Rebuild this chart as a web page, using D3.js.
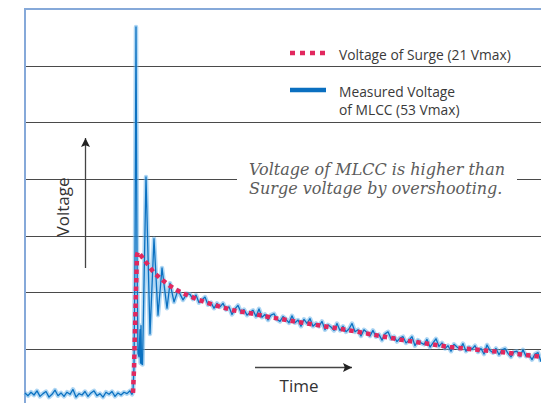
<!DOCTYPE html>
<html>
<head>
<meta charset="utf-8">
<script src="https://cdn.jsdelivr.net/npm/d3@7"></script>
<style>
  body { margin: 0; background: #fff; }
  svg { display: block; }
</style>
</head>
<body>
<div id="chart"></div>
<script>
const WIDTH = 541
const HEIGHT = 403

// time in arbitrary units, voltage in V
const baselineStart = 0
const baselineStep = 3
const baselineVolts = [0.3, -0.1, 0.4, 0.0, 0.6, -0.2, 0.2, 0.5, -0.3, 0.1, 0.7, -0.1,
    0.3, -0.2, 0.4, 0.1, 0.8, -0.3, 0.2, 0.0, 0.5, -0.2, 0.3, 0.6,
    -0.1, 0.2, -0.3, 0.4, 0.1, 0.5, -0.2, 0.3, 0.0, 0.4, 0.2, 0.6]

// ringing right after the surge edge [time, volts]
const ringing = [[106, 0.3], [107, 0.1], [108, 0.6], [109, 4.0], [110, 20], [111, 53],
    [112, 20], [113, 6.0], [114, 5.5], [115, 9.4], [115.5, 4.6], [116, 10], [116.5, 4.5],
    [117.5, 4.4], [121, 31.4], [125, 8.8], [129, 22.5], [133, 11.5], [137, 18.3],
    [142, 12.5], [145, 16.1], [149, 13.4], [153, 15.1], [158, 13.7], [162, 14.6]]

const decayStart = 165
const decayStep = 3
const decayVolts = [14.5, 13.8, 14.4, 13.3, 13.7, 14.1, 13.0, 13.3, 12.5, 13.2,
    12.7, 13.2, 12.3, 12.7, 11.6, 12.4, 12.9, 11.9, 12.3, 11.5,
    11.9, 12.2, 11.3, 12.4, 11.2, 11.6, 10.8, 11.5, 11.7, 10.9,
    10.6, 11.3, 10.9, 10.4, 11.4, 10.4, 10.8, 9.9, 10.9, 10.3,
    11.0, 9.9, 10.3, 9.9, 10.6, 9.4, 10.1, 9.8, 9.3, 10.3,
    9.3, 9.9, 9.1, 9.5, 10.3, 9.1, 9.4, 8.5, 9.4, 9.0,
    8.5, 9.3, 8.4, 8.7, 7.9, 8.8, 9.1, 8.1, 8.4, 7.7,
    8.2, 8.4, 7.5, 7.9, 8.4, 7.1, 7.9, 7.5, 7.3, 8.0,
    6.9, 7.5, 8.1, 7.0, 7.5, 6.7, 7.1, 6.3, 7.3, 6.9,
    6.6, 7.4, 6.3, 6.9, 6.6, 7.1, 6.2, 6.7, 5.9, 7.2,
    6.4, 6.1, 6.7, 5.8, 6.5, 6.7, 6.0, 5.5, 6.2, 6.3,
    5.6, 6.5, 5.6, 5.8, 5.1, 5.9, 6.1, 4.8]

// surge voltage (21 Vmax) [time, volts]
const surge = [[108, 0.3], [109, 3.6], [110, 9.4], [111, 15.1], [112, 20.2], [113, 20.6],
    [117, 19.9], [129, 17.6], [137, 16.6], [145, 15.7], [153, 15.0], [162, 14.4],
    [172, 13.8], [188, 13.0], [208, 12.2], [228, 11.7], [245, 11.2], [278, 10.4],
    [325, 9.3], [378, 7.9], [425, 6.9], [475, 6.2], [516, 5.5]]

const gridVolts = [6.6, 14.8, 22.95, 31.1, 39.25, 47.4]

const legendLabels = ['Voltage of Surge (21 Vmax)', 'Measured Voltage', 'of MLCC (53 Vmax)']
const noteLines = ['Voltage of MLCC is higher than', 'Surge voltage by overshooting.']

const measured = baselineVolts.map((v, i) => [baselineStart + i * baselineStep, v])
    .concat(ringing)
    .concat(decayVolts.map((v, i) => [decayStart + i * decayStep, v]))

const frameLeft = 25
const frameTop = 9

const xScale = d3.scaleLinear().domain([0, 516]).range([frameLeft, WIDTH])
const yScale = d3.scaleLinear().domain([0, 53]).range([395, 27])

const svg = d3.select('#chart')
    .append('svg')
        .attr('width', WIDTH)
        .attr('height', HEIGHT)

// gridlines
svg.append('g')
    .selectAll('line')
    .data(gridVolts)
    .join('line')
        .attr('x1', frameLeft)
        .attr('x2', WIDTH)
        .attr('y1', d => Math.round(yScale(d)) + 0.5)
        .attr('y2', d => Math.round(yScale(d)) + 0.5)
        .attr('stroke', '#4a4a4a')
        .attr('stroke-width', 1.2)

// frame (left + top)
svg.append('path')
    .attr('d', `M${frameLeft},${HEIGHT}V${frameTop}H${WIDTH}`)
    .attr('fill', 'none')
    .attr('stroke', '#86a9d9')
    .attr('stroke-width', 2)

// white box behind the note hides the gridline
svg.append('rect')
    .attr('x', 237).attr('y', 160)
    .attr('width', 280).attr('height', 40)
    .attr('fill', '#fff')

const line = d3.line()
    .x(d => xScale(d[0]))
    .y(d => yScale(d[1]))

svg.append('path')
    .datum(measured)
    .attr('d', line)
    .attr('fill', 'none')
    .attr('stroke', '#6cb4ea')
    .attr('stroke-opacity', 0.55)
    .attr('stroke-width', 4.5)
    .attr('stroke-linejoin', 'round')

svg.append('path')
    .datum(measured)
    .attr('d', line)
    .attr('fill', 'none')
    .attr('stroke', '#0b71c1')
    .attr('stroke-width', 1.3)
    .attr('stroke-linejoin', 'round')

svg.append('path')
    .datum(surge)
    .attr('d', line)
    .attr('fill', 'none')
    .attr('stroke', '#e2285e')
    .attr('stroke-width', 4.5)
    .attr('stroke-dasharray', '4.5,4')

// arrows
const defs = svg.append('defs')
defs.append('marker')
    .attr('id', 'arrow')
    .attr('viewBox', '0 0 10 10')
    .attr('refX', 10).attr('refY', 5)
    .attr('markerWidth', 9).attr('markerHeight', 9)
    .attr('markerUnits', 'userSpaceOnUse')
    .attr('orient', 'auto')
  .append('path')
    .attr('d', 'M0,0L10,5L0,10L2,5Z')
    .attr('fill', '#222')

svg.append('line')
    .attr('x1', 85.5).attr('x2', 85.5)
    .attr('y1', 268).attr('y2', 138)
    .attr('stroke', '#444').attr('stroke-width', 1.3)
    .attr('marker-end', 'url(#arrow)')

svg.append('line')
    .attr('x1', 255).attr('x2', 352)
    .attr('y1', 367.5).attr('y2', 367.5)
    .attr('stroke', '#444').attr('stroke-width', 1.3)
    .attr('marker-end', 'url(#arrow)')

svg.append('text')
    .attr('transform', 'translate(69,207) rotate(-90)')
    .attr('text-anchor', 'middle')
    .style('font-family', 'Open Sans, sans-serif')
    .style('font-size', '17px')
    .attr('fill', '#333')
    .text('Voltage')

svg.append('text')
    .attr('x', 299).attr('y', 392)
    .attr('text-anchor', 'middle')
    .style('font-family', 'Open Sans, sans-serif')
    .style('font-size', '17px')
    .attr('fill', '#333')
    .text('Time')

// note
svg.append('g')
    .selectAll('text')
    .data(noteLines)
    .join('text')
        .attr('x', 249)
        .attr('y', (d, i) => 175 + i * 19)
        .style('font-family', 'DejaVu Serif, serif')
        .style('font-style', 'italic')
        .style('font-size', '16px')
        .attr('fill', '#5c5c5c')
        .text(d => d)

// legend
const legend = svg.append('g')
legend.append('line')
    .attr('x1', 290).attr('x2', 326)
    .attr('y1', 53).attr('y2', 53)
    .attr('stroke', '#e2285e')
    .attr('stroke-width', 4.5)
    .attr('stroke-dasharray', '5,5')
legend.append('line')
    .attr('x1', 290).attr('x2', 326)
    .attr('y1', 90).attr('y2', 90)
    .attr('stroke', '#0a6fc0')
    .attr('stroke-width', 4.5)

legend.selectAll('text')
    .data(legendLabels)
    .join('text')
        .attr('x', 339)
        .attr('y', (d, i) => [60, 97, 115][i])
        .style('font-family', 'Open Sans, sans-serif')
        .style('font-size', '13.8px')
        .attr('fill', '#3a3a3a')
        .text(d => d)
</script>
</body>
</html>
